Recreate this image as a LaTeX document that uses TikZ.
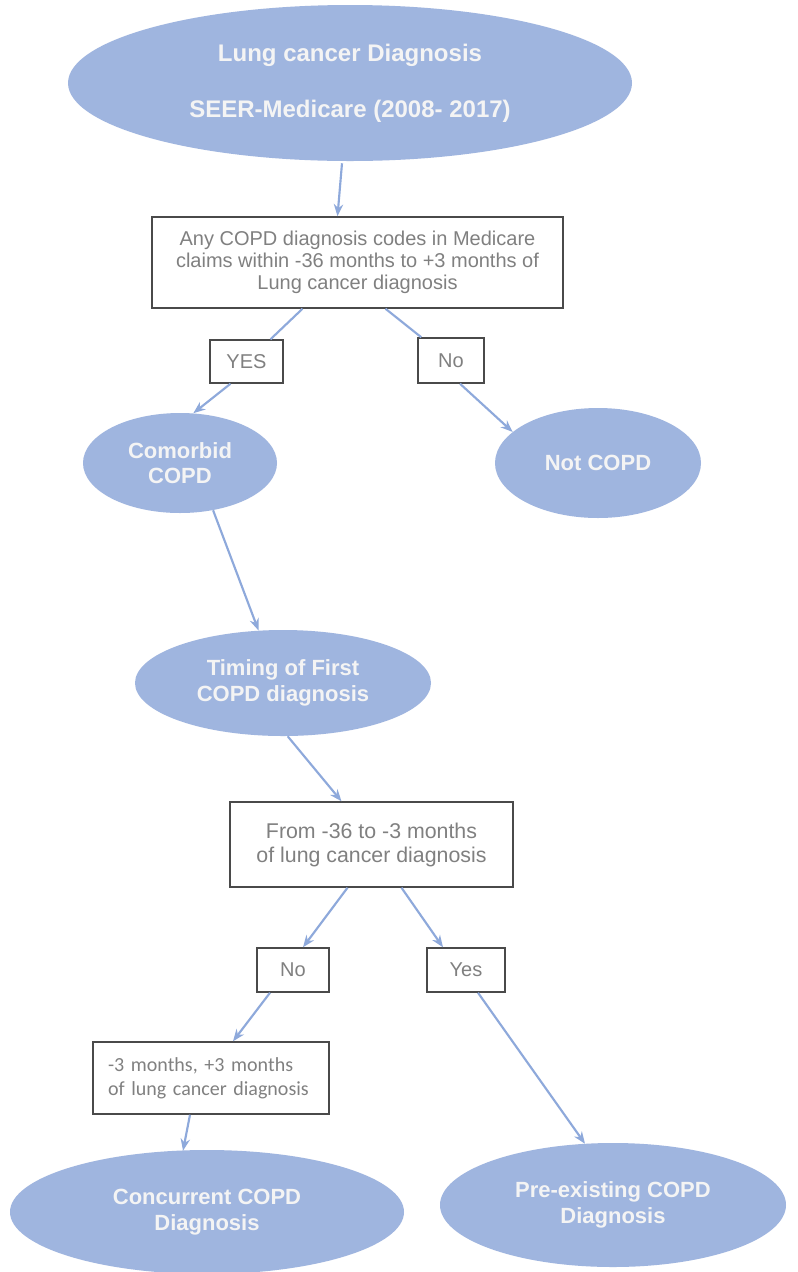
\documentclass[tikz,border=0pt]{standalone}
\usepackage{fontspec}
\setmainfont{Liberation Sans}
\newfontfamily\calib{Carlito}
\usetikzlibrary{shapes.geometric,arrows.meta,calc}
\definecolor{ellfill}{HTML}{9FB5DF}
\definecolor{arr}{HTML}{8EA9DB}
\definecolor{txtw}{HTML}{F4F4F4}
\definecolor{boxtxt}{HTML}{808080}
\definecolor{boxline}{HTML}{4A4A4A}
\tikzset{
 ell/.style={ellipse, fill=ellfill, draw=none, inner sep=0pt, align=center, text=txtw, font=\fontsize{16.5}{19}\selectfont\bfseries},
 box/.style={rectangle, draw=boxline, line width=1.1pt, fill=white, inner sep=0pt, align=center, text=boxtxt, font=\fontsize{15}{16.5}\selectfont},
 conn/.style={draw=arr, line width=1.6pt},
 arrow/.style={conn, -{Stealth[length=9pt,width=7pt]}},
}
\begin{document}
\begin{tikzpicture}[x=0.75pt,y=-0.75pt]
\useasboundingbox (0,0) rectangle (797,1272);
\fill[white] (0,0) rectangle (797,1272);

\node[ell, minimum width=564*0.75pt, minimum height=156*0.75pt, font=\fontsize{18}{21}\selectfont\bfseries] (top) at (350,83) {Lung cancer Diagnosis\\[21pt]SEER-Medicare (2008- 2017)};

\node[box, minimum width=411*0.75pt, minimum height=91*0.75pt] (q1) at (357.5,262.5) {Any COPD diagnosis codes in Medicare\\claims within -36 months to +3 months of\\Lung cancer diagnosis};

\node[box, minimum width=73*0.75pt, minimum height=43*0.75pt] (yes) at (246.5,361.5) {YES};
\node[box, minimum width=66*0.75pt, minimum height=45*0.75pt] (no) at (451,360.5) {No};

\node[ell, minimum width=194*0.75pt, minimum height=100*0.75pt] (com) at (180,463) {Comorbid\\COPD};
\node[ell, minimum width=206*0.75pt, minimum height=110*0.75pt] (notc) at (598,463) {Not COPD};

\node[ell, minimum width=296*0.75pt, minimum height=106*0.75pt] (tim) at (283,683) {Timing of First\\COPD diagnosis};

\node[box, minimum width=283*0.75pt, minimum height=85*0.75pt, font=\fontsize{16}{18}\selectfont] (q2) at (371.5,844.5) {From -36 to -3 months\\of lung cancer diagnosis};

\node[box, minimum width=72*0.75pt, minimum height=44*0.75pt] (no2) at (293,970) {No};
\node[box, minimum width=78*0.75pt, minimum height=44*0.75pt] (yes2) at (466,970) {Yes};

\node[box, align=left, text width=206*0.75pt, inner xsep=15*0.75pt, minimum height=72*0.75pt, font=\calib\fontsize{15}{18}\selectfont] (q3) at (211,1078) {-3 months, +3 months\\of lung cancer diagnosis};

\node[ell, minimum width=394*0.75pt, minimum height=124*0.75pt] (conc) at (207,1212) {Concurrent COPD\\Diagnosis};
\node[ell, minimum width=346*0.75pt, minimum height=124*0.75pt] (pre) at (613,1205) {Pre-existing COPD\\Diagnosis};

\draw[arrow] ($(top.south)+(-8,2)$) -- ($(q1.north)+(-20,0)$);
\draw[conn] ($(q1.south)+(-55,0)$) -- ($(yes.north)+(24,0)$);
\draw[conn] ($(q1.south)+(28,0)$) -- ($(no.north west)+(4,0)$);
\draw[arrow] ($(yes.south)+(-16,0)$) -- (com.75);
\draw[arrow] ($(no.south)+(9,0)$) -- (notc.160);
\draw[arrow] (com.305) -- (tim.115);
\draw[arrow] (tim.275) -- ($(q2.north)+(-30,0)$);
\draw[arrow] ($(q2.south)+(-24,0)$) -- ($(no2.north)+(10,0)$);
\draw[arrow] ($(q2.south)+(30,0)$) -- ($(yes2.north)+(-23,0)$);
\draw[arrow] ($(no2.south)+(-23,0)$) -- ($(q3.north)+(22,0)$);
\draw[arrow] ($(q3.south)+(-21,0)$) -- ($(conc.north)+(-24,1)$);
\draw[arrow] ($(yes2.south)+(12,0)$) -- ($(pre.north)+(-28,1)$);
\end{tikzpicture}
\end{document}
